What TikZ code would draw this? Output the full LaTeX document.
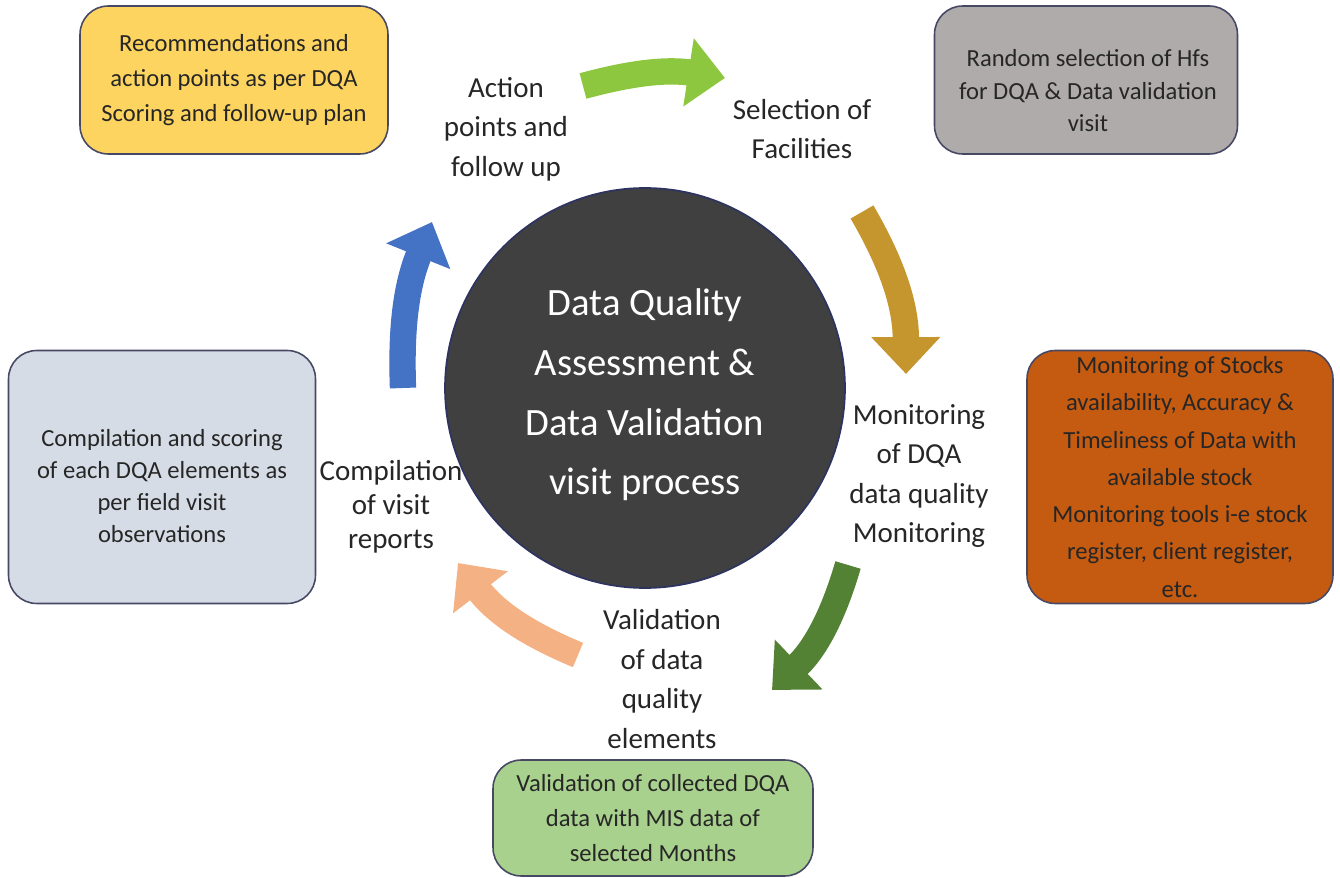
\documentclass[tikz,border=0pt]{standalone}
\usepackage{fontspec}
\setmainfont{Carlito}
\usetikzlibrary{arrows.meta}

\definecolor{hubgray}{RGB}{64,64,64}
\definecolor{hubline}{RGB}{46,52,96}
\definecolor{boxline}{RGB}{70,72,100}
\definecolor{planyellow}{RGB}{252,212,95}
\definecolor{randomgray}{RGB}{175,171,171}
\definecolor{scoreblue}{RGB}{214,220,229}
\definecolor{stockorange}{RGB}{197,90,17}
\definecolor{comparegreen}{RGB}{169,209,142}
\definecolor{arrlime}{RGB}{141,198,63}
\definecolor{arrgold}{RGB}{196,150,45}
\definecolor{arrgreen}{RGB}{84,130,53}
\definecolor{arrpeach}{RGB}{244,177,131}
\definecolor{arrblue}{RGB}{68,114,196}

\tikzset{
  infobox/.style={draw=boxline, line width=0.9pt, rounded corners=16pt, align=center,
    inner sep=0pt, font=\fontsize{14}{20}\selectfont, text=black!85},
  boxtext/.style={align=center, inner sep=0pt, font=\fontsize{14}{19}\selectfont, text=black!85},
  steplabel/.style={align=center, font=\fontsize{16.5}{22.5}\selectfont, text=black!85},
  cyclearrow/.style={line width=15pt, -{Triangle[width=38pt,length=21pt]}},
}

\begin{document}
\begin{tikzpicture}[x=0.02cm, y=-0.02cm]
  \useasboundingbox (0,0) rectangle (1340,878);

  % ends of the cycle arrows
  \coordinate (A1s) at (583,86);  \coordinate (A1e) at (725,78);
  \coordinate (A2s) at (862,212); \coordinate (A2e) at (906,374);
  \coordinate (A3s) at (848,565); \coordinate (A3e) at (772,690);
  \coordinate (A4s) at (578,655); \coordinate (A4e) at (458,563);
  \coordinate (A5s) at (403,388); \coordinate (A5e) at (432,222);

  \draw[cyclearrow, arrlime]  (A1s) to[bend left=12] (A1e);
  \draw[cyclearrow, arrgold]  (A2s) to[bend left=15] (A2e);
  \draw[cyclearrow, arrgreen] (A3s) to[bend left=15] (A3e);
  \draw[cyclearrow, arrpeach] (A4s) to[bend left=15] (A4e);
  \draw[cyclearrow, arrblue]  (A5s) to[bend left=12] (A5e);

  % centre
  \node[circle, minimum size=8cm, fill=hubgray, draw=hubline, line width=1pt] (hub) at (645,388) {};
  \node[text=white, align=center, font=\fontsize{22}{34}\selectfont] (hubText) at (645,395)
        {Data Quality\\Assessment \&\\Data Validation\\visit process};

  % steps round the circle
  \node[steplabel] (lblAction)  at (506,129) {Action\\points and\\follow up};
  \node[steplabel] (lblSelect)  at (802,129) {Selection of\\Facilities};
  \node[steplabel] (lblMonitor) at (919,476) {Monitoring\\of DQA\\data quality\\Monitoring};
  \node[steplabel] (lblValid)   at (662,679) {Validation\\of data\\quality\\elements};
  \node[steplabel, font=\fontsize{16.5}{19.5}\selectfont] (lblCompile) at (391,507) {Compilation\\of visit\\reports};

  % detail boxes
  \node[infobox, fill=planyellow, minimum width=6.16cm, minimum height=2.96cm] (boxPlan) at (234,80)
    {Recommendations and\\action points as per DQA\\Scoring and follow-up plan};
  \node[infobox, fill=randomgray, minimum width=6.06cm, minimum height=2.96cm] (boxRandom) at (1086,80) {};
  \node[boxtext, font=\fontsize{14}{18.5}\selectfont] (txtRandom) at (1088,91)
    {Random selection of Hfs\\for DQA \& Data validation\\visit};
  \node[infobox, fill=stockorange, minimum width=6.12cm, minimum height=5.06cm,
        font=\fontsize{14}{21.2}\selectfont] (boxStock) at (1180,477)
    {Monitoring of Stocks\\availability, Accuracy \&\\Timeliness of Data with\\available stock\\Monitoring tools i-e stock\\register, client register,\\etc.};
  \node[infobox, fill=comparegreen, minimum width=6.4cm, minimum height=2.32cm] (boxCompare) at (653,818)
    {Validation of collected DQA\\data with MIS data of\\selected Months};
  \node[infobox, fill=scoreblue, minimum width=6.14cm, minimum height=5.06cm] (boxScore) at (162,477) {};
  \node[boxtext, font=\fontsize{14}{18.2}\selectfont] (txtScore) at (162,486)
    {Compilation and scoring\\of each DQA elements as\\per field visit\\observations};
\end{tikzpicture}
\end{document}
